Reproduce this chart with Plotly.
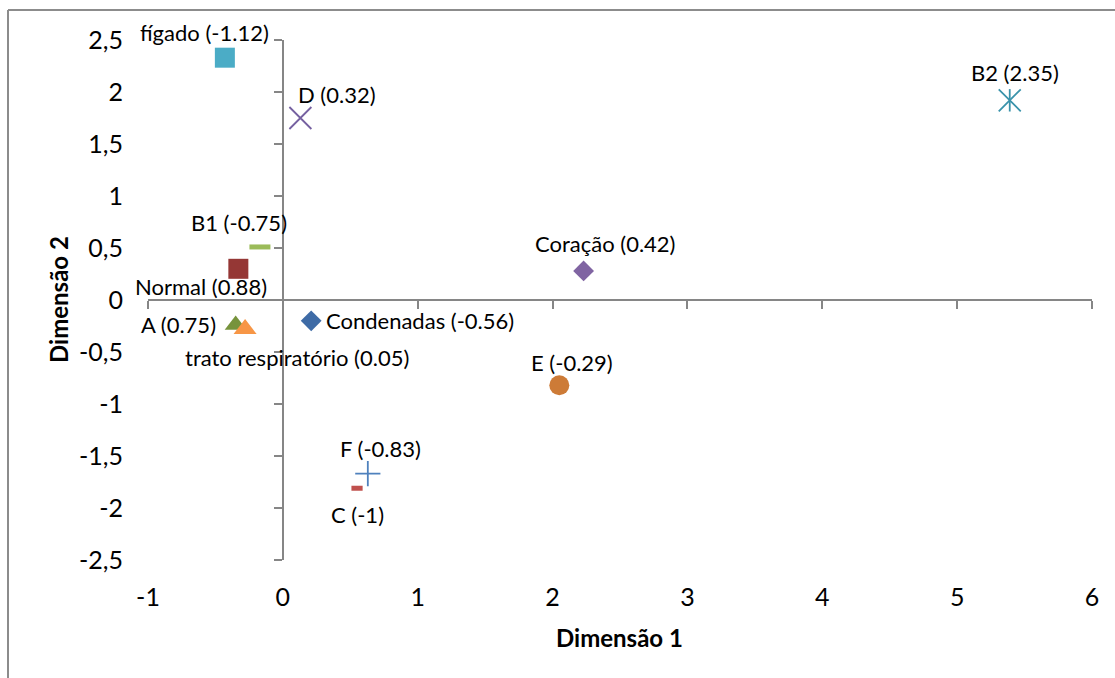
import plotly.graph_objects as go

# --- data -------------------------------------------------------------
names = ["fígado", "D", "B1", "Normal", "A", "trato respiratório",
         "Condenadas", "Coração", "E", "F", "C", "B2"]
scores = ["-1.12", "0.32", "-0.75", "0.88", "0.75", "0.05",
          "-0.56", "0.42", "-0.29", "-0.83", "-1", "2.35"]
dim1 = [-0.43, 0.13, -0.17, -0.33, -0.35, -0.28,
        0.21, 2.23, 2.05, 0.63, 0.55, 5.39]
dim2 = [2.33, 1.75, 0.51, 0.30, -0.24, -0.28,
        -0.20, 0.28, -0.82, -1.67, -1.81, 1.92]

x_ticks = [-1, 0, 1, 2, 3, 4, 5, 6]
x_tick_text = ["-1", "0", "1", "2", "3", "4", "5", "6"]
y_ticks = [-2.5, -2, -1.5, -1, -0.5, 0, 0.5, 1, 1.5, 2, 2.5]
y_tick_text = ["-2,5", "-2", "-1,5", "-1", "-0,5", "0", "0,5", "1", "1,5", "2", "2,5"]

# --- styling ------------------------------------------------------------
W, H = 1115, 678
ML, MR, MT, MB = 148, 23, 40, 118
XR = [-1, 6]
YR = [-2.5, 2.5]
AXIS_GREY = "#868686"
FONT = "Lato"

# marker style per point: symbol, size, colour, line width
styles = {
    "fígado": ("square", 20, "#4BACC6", 0),
    "D": ("x-thin-open", 22, "#7560A0", 1.8),
    "B1": ("line-ew-open", 15, "#9BBB59", 5),
    "Normal": ("square", 20, "#953735", 0),
    "A": ("triangle-up", 19, "#77933C", 0),
    "trato respiratório": ("triangle-up", 20, "#F79646", 0),
    "Condenadas": ("diamond", 16, "#3E6BA6", 0),
    "Coração": ("diamond", 16, "#8064A2", 0),
    "E": ("circle", 20, "#CD7B37", 0),
    "F": ("cross-thin-open", 18, "#4F81BD", 1.8),
    "C": ("line-ew-open", 8, "#C0504D", 5),
    "B2": ("x-thin-open", 22, "#3A93AB", 1.8),
}
# label placement relative to its marker: (xanchor, xshift, yshift)
label_pos = {
    "fígado": ("center", -20, 25),
    "D": ("center", 37, 24),
    "B1": ("center", -21, 24),
    "Normal": ("center", -37, -18),
    "A": ("right", -18, 0),
    "trato respiratório": ("center", 52, -28),
    "Condenadas": ("left", 13, 0),
    "Coração": ("center", 22, 27),
    "E": ("center", 13, 23),
    "F": ("center", 13, 25),
    "C": ("center", 0, -26),
    "B2": ("center", 5, 28),
}

fig = go.Figure()

for n, x, y in zip(names, dim1, dim2):
    sym, size, col, lw = styles[n]
    fig.add_trace(go.Scatter(
        x=[x], y=[y], mode="markers", name=n, showlegend=False,
        marker=dict(symbol=sym, size=size, color=col,
                    line=dict(width=lw, color=col)),
        hoverinfo="skip",
    ))
    if n == "B2":
        # vertical stroke completes the six-armed star
        fig.add_trace(go.Scatter(
            x=[x], y=[y], mode="markers", showlegend=False, hoverinfo="skip",
            marker=dict(symbol="line-ns-open", size=16, color=col,
                        line=dict(width=1.8, color=col)),
        ))

# data labels
for n, s, x, y in zip(names, scores, dim1, dim2):
    xa, xs, ys = label_pos[n]
    fig.add_annotation(
        x=x, y=y, text=f"{n} ({s})", showarrow=False,
        xanchor=xa, yanchor="middle", xshift=xs, yshift=ys,
        font=dict(family=FONT, size=22, color="#000000"),
    )

# helper trace so the crossing axes are rendered
fig.add_trace(go.Scatter(x=[], y=[], xaxis="x2", yaxis="y2",
                         showlegend=False, hoverinfo="skip"))

x_cross = (0 - XR[0]) / (XR[1] - XR[0])
y_cross = (0 - YR[0]) / (YR[1] - YR[0])

fig.update_layout(
    width=W, height=H,
    margin=dict(l=ML, r=MR, t=MT, b=MB),
    paper_bgcolor="white", plot_bgcolor="white",
    font=dict(family=FONT, color="#000000"),
    xaxis=dict(range=XR, tickvals=x_ticks, ticktext=x_tick_text,
               showgrid=False, zeroline=False, showline=False, ticks="",
               tickfont=dict(size=25), ticklabelstandoff=20),
    yaxis=dict(range=YR, tickvals=y_ticks, ticktext=y_tick_text,
               showgrid=False, zeroline=False, showline=False, ticks="",
               tickfont=dict(size=25), ticklabelstandoff=24),
    xaxis2=dict(range=XR, overlaying="x", anchor="free", position=y_cross,
                tickvals=x_ticks, showticklabels=False, showgrid=False,
                zeroline=False, showline=True, linecolor=AXIS_GREY,
                linewidth=1.5, ticks="outside", ticklen=8,
                tickcolor=AXIS_GREY, tickwidth=1.5),
    yaxis2=dict(range=YR, overlaying="y", anchor="free", position=x_cross,
                side="left", tickvals=y_ticks, showticklabels=False,
                showgrid=False, zeroline=False, showline=True,
                linecolor=AXIS_GREY, linewidth=1.5, ticks="outside",
                ticklen=8, tickcolor=AXIS_GREY, tickwidth=1.5),
)

# axis titles
pw, ph = W - ML - MR, H - MT - MB


def px_x(px):
    return (px - ML) / pw


def px_y(py):
    return (H - MB - py) / ph


fig.add_annotation(x=px_x(619), y=px_y(637), xref="paper", yref="paper",
                   xanchor="center", yanchor="middle",
                   text="<b>Dimensão 1</b>", showarrow=False,
                   font=dict(family=FONT, size=24))
fig.add_annotation(x=px_x(58), y=px_y(300), xref="paper", yref="paper",
                   xanchor="center", yanchor="middle",
                   text="<b>Dimensão 2</b>", showarrow=False, textangle=-90,
                   font=dict(family=FONT, size=24))

# chart-area frame (top and left edges visible)
fig.add_shape(type="line", xref="paper", yref="paper",
              x0=px_x(8), y0=px_y(10), x1=px_x(W + 5), y1=px_y(10),
              line=dict(color="#8C8C8C", width=2))
fig.add_shape(type="line", xref="paper", yref="paper",
              x0=px_x(8), y0=px_y(10), x1=px_x(8), y1=px_y(H + 5),
              line=dict(color="#8C8C8C", width=2))

fig.write_html("out.html")
